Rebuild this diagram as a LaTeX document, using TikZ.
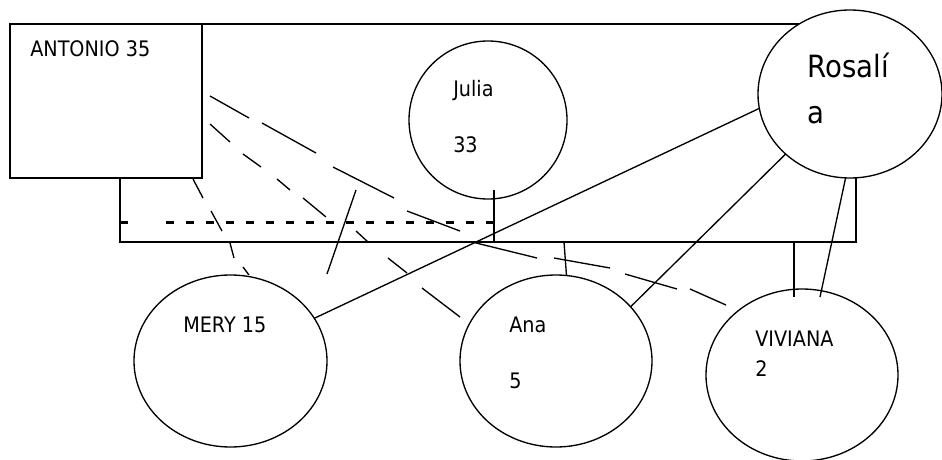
\documentclass[tikz,border=0pt]{standalone}
\usepackage{fontspec}
\setmainfont{DejaVu Sans}[FakeStretch=0.9]
\usetikzlibrary{shapes.geometric}
\begin{document}
\begin{tikzpicture}[x=0.75pt,y=-0.75pt,
  ln/.style={line width=1pt},
  ent/.style={draw, line width=1pt, fill=white, inner sep=0pt, outer sep=0pt},
  oval/.style={ent, ellipse},
  lbl/.style={anchor=base west, inner sep=0pt, font=\fontsize{16}{19}\selectfont},
  biglbl/.style={anchor=base west, inner sep=0pt, font=\fontsize{23}{28}\selectfont},
  dotline/.style={line width=2pt, dash pattern=on 6.2pt off 8.8pt}]
\useasboundingbox (0,0) rectangle (942,460);
% frame
\node[ent, rectangle, fill=none, minimum width=552pt, minimum height=163.5pt] (frame) at (488,133) {};
% entities
\node[ent, rectangle, minimum width=144pt, minimum height=115.5pt] (antonio) at (106,101) {};
\node[ent, circle, minimum size=118.5pt] (julia) at (488,120) {};
\node[oval, minimum width=138pt, minimum height=126pt] (rosalia) at (850,94) {};
\node[oval, minimum width=144.75pt, minimum height=129pt] (mery) at (230.5,361) {};
\node[oval, minimum width=144pt, minimum height=129pt] (ana) at (556,361) {};
\node[oval, minimum width=144pt, minimum height=129pt] (viviana) at (802,375) {};
% coordinates
\coordinate (jtop) at (494,190);
\coordinate (jbot) at (494,242);
\coordinate (abot) at (564,242);
\coordinate (vtop) at (794,242);
\coordinate (vin) at (794,297);
\coordinate (vin2) at (820,297);
\coordinate (dl) at (120,222.7);
\coordinate (dl2) at (128,222.7);
\coordinate (dl3) at (166,222.7);
\coordinate (dr) at (494,222.7);
\coordinate (fd1) at (327,274);
\coordinate (fd2) at (356,190);
% solid connectors
\draw[ln] (jtop) -- (jbot);
\draw[ln] (abot) -- (ana.83);
\draw[ln] (vtop) -- (vin);
\draw[ln] (rosalia.267) -- (vin2);
\draw[ln] (mery.27) -- (rosalia.189);
\draw[ln] (ana.36) -- (rosalia.223);
\draw[ln] (fd1) -- (fd2);
% thick dashed line
\draw[line width=2pt] (dl) -- (dl2);
\draw[dotline] (dl3) -- (dr);
% long dashed line Antonio - Viviana
\draw[ln] (210,96) -- (249,118) (262,123) -- (316,153) (333,167) -- (394,198)
  (407,211) -- (460,231) (472,242) -- (537,258) (554,258) -- (610,268)
  (625,274) -- (677,289) (690,289) -- (726,305);
% dashed line Antonio - Ana
\draw[ln] (210,124) -- (230,142) (243,154) -- (261,167) (277,179) -- (290,190)
  (303,198) -- (326,217) (356,231) -- (368,242) (388,258) -- (407,273)
  (422,288) -- (460,317);
% dashed line Antonio - Mery
\draw[ln] (193,179) -- (203,198) (211,211) -- (222,231) (230,243) -- (234,258)
  (243,267) -- (249,275);
% labels
\node[lbl] (tantonio) at (30,57) {ANTONIO 35};
\node[lbl] (tjulia) at (453,97) {Julia};
\node[lbl] (tjulian) at (453,152.5) {33};
\node[biglbl] (trosa) at (807,78) {Rosalí};
\node[biglbl] (trosb) at (807,123) {a};
\node[lbl] (tmery) at (183,332) {MERY 15};
\node[lbl] (tana) at (509,332) {Ana};
\node[lbl] (tanan) at (509,388) {5};
\node[lbl] (tviv) at (755,346) {VIVIANA};
\node[lbl] (tvivn) at (755,376) {2};
\end{tikzpicture}
\end{document}
